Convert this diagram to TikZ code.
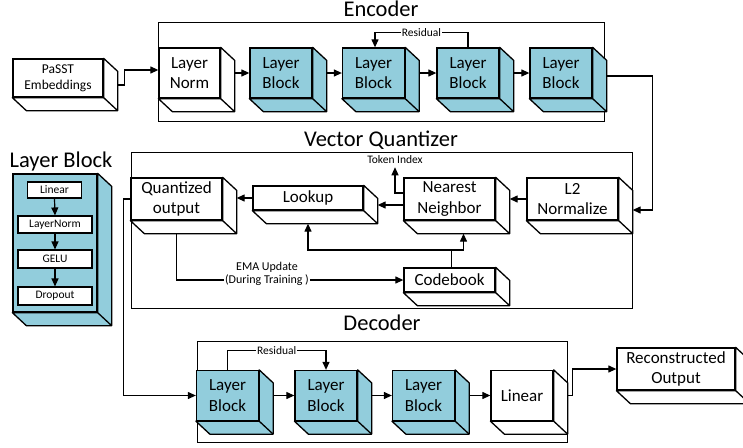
\documentclass[tikz,border=0pt]{standalone}
\usepackage{fontspec}
\setmainfont{Carlito}
\usetikzlibrary{arrows.meta}
\definecolor{lbfill}{HTML}{92CDDC}
\tikzset{
  boxline/.style={draw=black, line width=1.3pt},
  box/.style={boxline, fill=white, inner sep=0pt, align=center, font=\fontsize{17}{20.5}\selectfont},
  lbox/.style={box, fill=lbfill},
  ibox/.style={boxline, line width=1.1pt, fill=white, inner sep=0pt, font=\fontsize{11.5}{13}\selectfont},
  arr/.style={line width=1.2pt, -{Triangle[length=8pt,width=7pt]}},
  frame/.style={draw, line width=1pt},
  title/.style={font=\fontsize{22.5}{26}\selectfont, inner sep=0pt},
  small/.style={font=\fontsize{11.5}{13.7}\selectfont, inner sep=1pt, fill=white},
}
\newcommand\cubesides[2]{%
  \filldraw[boxline, fill=#2, line join=round]
    (#1.north east) -- ([shift={(14pt,-13pt)}]#1.north east)
    -- ([shift={(14pt,-13pt)}]#1.south east)
    -- ([shift={(14pt,-13pt)}]#1.south west)
    -- (#1.south west) -- (#1.south east) -- cycle;
  \draw[boxline] (#1.south east) -- ([shift={(14pt,-13pt)}]#1.south east);
}
\begin{document}
\begin{tikzpicture}[x=1pt,y=-1pt]
\useasboundingbox (0,0) rectangle (743,447);

% titles
\node[title, anchor=base] (tenc) at (381,16.7) {Encoder};
\node[title, anchor=base] (tvq) at (381,146) {Vector Quantizer};
\node[title, anchor=base] (tdec) at (382,330.7) {Decoder};
\node[title, anchor=base] (tlb) at (61,167) {Layer Block};

% frames
\draw[frame] (158,22) rectangle (604,121);
\draw[frame] (131,152) rectangle (632,308);
\draw[frame] (197,341) rectangle (567,442);

% input
\node[box, minimum width=90pt, minimum height=38pt, font=\fontsize{13.5}{16}\selectfont] (pas) at (58,78) {PaSST\\Embeddings};
\cubesides{pas}{white}

% encoder
\node[box, minimum width=61pt, minimum height=50pt] (ln) at (189.5,73) {Layer\\Norm};
\cubesides{ln}{white}
\node[lbox, minimum width=62pt, minimum height=50pt] (lb1) at (281,73) {Layer\\Block};
\cubesides{lb1}{lbfill}
\node[lbox, minimum width=62pt, minimum height=50pt] (lb2) at (373.5,73) {Layer\\Block};
\cubesides{lb2}{lbfill}
\node[lbox, minimum width=62pt, minimum height=50pt] (lb3) at (468,73) {Layer\\Block};
\cubesides{lb3}{lbfill}
\node[lbox, minimum width=62pt, minimum height=50pt] (lb4) at (561,73) {Layer\\Block};
\cubesides{lb4}{lbfill}

% vector quantizer
\node[box, minimum width=91pt, minimum height=42pt] (qo) at (176.5,199) {Quantized\\output};
\cubesides{qo}{white}
\node[box, minimum width=110pt, minimum height=24pt] (lookup) at (308,198) {Lookup};
\cubesides{lookup}{white}
\node[box, minimum width=91pt, minimum height=42pt] (nn) at (449.5,199) {Nearest\\Neighbor};
\cubesides{nn}{white}
\node[box, minimum width=91pt, minimum height=42pt] (l2) at (572.5,199) {L2\\Normalize};
\cubesides{l2}{white}
\node[box, minimum width=91pt, minimum height=24pt] (cb) at (449.5,280) {Codebook};
\cubesides{cb}{white}

% decoder
\node[lbox, minimum width=62pt, minimum height=50pt] (dlb1) at (227.5,395.5) {Layer\\Block};
\cubesides{dlb1}{lbfill}
\node[lbox, minimum width=62pt, minimum height=50pt] (dlb2) at (326,395.5) {Layer\\Block};
\cubesides{dlb2}{lbfill}
\node[lbox, minimum width=62pt, minimum height=50pt] (dlb3) at (423.5,395.5) {Layer\\Block};
\cubesides{dlb3}{lbfill}
\node[box, minimum width=62pt, minimum height=50pt] (dlin) at (522,395.5) {Linear};
\cubesides{dlin}{white}

% output
\node[box, minimum width=118pt, minimum height=42pt] (rec) at (676,369) {Reconstructed\\Output};
\cubesides{rec}{white}

% legend
\node[lbox, minimum width=84pt, minimum height=138pt] (leg) at (55,243) {};
\cubesides{leg}{lbfill}
\node[ibox, minimum width=54pt, minimum height=16pt] (ilin) at (54.5,190) {Linear};
\node[ibox, minimum width=74pt, minimum height=17pt] (inorm) at (55,224.5) {LayerNorm};
\node[ibox, minimum width=74pt, minimum height=18pt] (igelu) at (55,259) {GELU};
\node[ibox, minimum width=74pt, minimum height=18pt] (idrop) at (55,296) {Dropout};
\draw[arr] (ilin.south) -- (inorm.north);
\draw[arr] (inorm.south) -- (igelu.north);
\draw[arr] (igelu.south) -- (idrop.north);

% encoder connectors
\draw[arr] ([xshift=14pt,yshift=-7pt]pas.east) -- ++(7,0) |- ([yshift=3pt]ln.west);
\draw[arr] ([xshift=14pt]ln.east) -- (lb1.west);
\draw[arr] ([xshift=14pt]lb1.east) -- (lb2.west);
\draw[arr] ([xshift=14pt]lb2.east) -- (lb3.west);
\draw[arr] ([xshift=14pt]lb3.east) -- (lb4.west);
\draw[arr] (lb3.north) -- ++(0,-15) -| ([xshift=1.5pt]lb2.north) node[small, pos=0.25] {Residual};
\draw[arr] ([xshift=14pt,yshift=-3pt]lb4.east) -- ++(46,0) |- ([xshift=14pt,yshift=-11pt]l2.east);

% vq connectors
\draw[arr] (l2.west) -- ([xshift=14pt]nn.east);
\draw[arr] ([yshift=-6pt]nn.west) -- ([xshift=14pt,yshift=-7pt]lookup.east);
\draw[arr] (lookup.west) -- ([xshift=14pt]qo.east |- lookup.west);
\node[small, fill=none, anchor=base] (ti) at (395,163) {Token Index};
\draw[arr] ([yshift=6pt]nn.west) -| ([yshift=-3pt]ti.south);
\coordinate (j) at (463.5,250);
\draw[arr] ([xshift=2pt]cb.north) |- (j) -- ([xshift=14pt,yshift=-13pt]nn.south);
\draw[arr] ([xshift=2pt]cb.north |- j) -| ([yshift=-13pt]lookup.south);
\draw[arr] ([yshift=-13pt]qo.south) |- (cb.west);
\node[small, align=center, font=\fontsize{12}{13.7}\selectfont] (ema) at (267,274) {EMA Update\\(During Training )};

% decoder connectors
\draw[arr] (qo.west) -- ++(-7,0) |- (dlb1.west);
\draw[arr] ([xshift=14pt]dlb1.east) -- (dlb2.west);
\draw[arr] ([xshift=14pt]dlb2.east) -- (dlb3.west);
\draw[arr] ([xshift=14pt]dlb3.east) -- (dlin.west);
\draw[arr] (dlb1.north) -- ++(0,-19) -| (dlb2.north) node[small, pos=0.25] {Residual};
\draw[arr] ([xshift=14pt]dlin.east) -- ++(5,0) |- (rec.west);
\end{tikzpicture}
\end{document}
